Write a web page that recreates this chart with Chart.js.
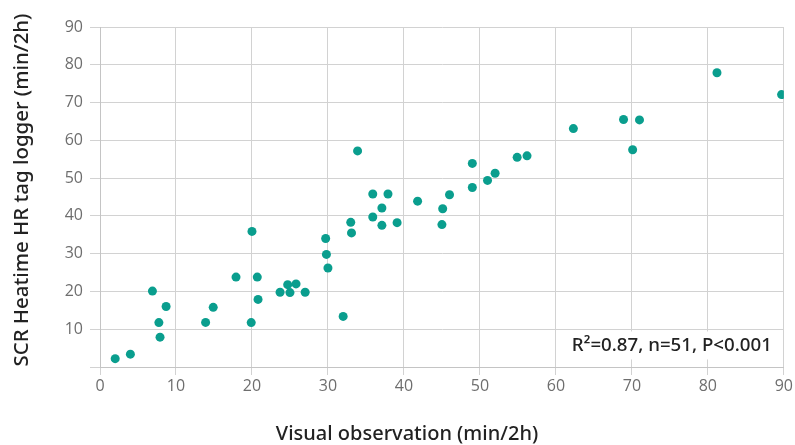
<!DOCTYPE html>
<html><head><meta charset="utf-8">
<script src="https://cdn.jsdelivr.net/npm/chart.js@4"></script>
<style>html,body{margin:0;padding:0;background:#fff}</style>
</head><body>
<canvas id="c" width="795" height="445"></canvas>
<script>
const visualObs = [2.0,4.0,6.9,8.7,7.75,7.9,13.9,14.9,17.9,20.7,20.8,19.9,20.0,23.7,24.7,25.8,25.0,27.0,29.7,29.8,30.0,32.0,33.0,33.1,33.9,35.9,37.9,37.1,35.9,37.1,39.1,41.8,45.0,45.1,46.0,49.0,49.0,51.0,52.0,54.9,56.2,62.3,68.9,70.1,71.0,81.2,89.7];
const tagLogger = [2.2,3.4,20.1,16.0,11.75,7.9,11.8,15.8,23.8,23.8,17.9,11.75,35.9,19.8,21.8,22.0,19.7,19.8,34.0,29.8,26.2,13.4,38.3,35.5,57.2,45.8,45.8,42.1,39.7,37.5,38.2,43.9,37.7,41.9,45.6,47.5,53.9,49.4,51.3,55.5,55.9,63.1,65.5,57.5,65.4,77.9,72.1];
const xTickValues = [0,10,20,30,40,50,60,70,80,90];
const yTickValues = [10,20,30,40,50,60,70,80,90];
const xTitle = "Visual observation (min/2h)";
const yTitle = "SCR Heatime HR tag logger (min/2h)";
const statsText = "R²=0.87, n=51, P<0.001";

const points = visualObs.map((v, i) => ({x: v, y: tagLogger[i]}));

const textPlugin = {
  id: 'texts',
  beforeDatasetsDraw(chart) {
    const {ctx, chartArea} = chart;
    const ys = chart.scales.y;
    ctx.save();
    ctx.font = '500 18.7px "Noto Sans"';
    const w = ctx.measureText(statsText).width;
    const xr = chartArea.right - 12;
    const yc = ys.getPixelForValue(5.7);
    ctx.fillStyle = '#ffffff';
    ctx.fillRect(xr - w - 10, yc - 14, w + 20, 28);
    ctx.fillStyle = '#222222';
    ctx.textAlign = 'right';
    ctx.textBaseline = 'middle';
    ctx.fillText(statsText, xr, yc);
    ctx.restore();
  },
  afterDraw(chart) {
    const {ctx} = chart;
    ctx.save();
    ctx.fillStyle = '#222222';
    ctx.textAlign = 'center';
    ctx.textBaseline = 'middle';
    ctx.font = '500 20px "Noto Sans"';
    ctx.fillText(xTitle, 407, 434);
    ctx.translate(22, 190);
    ctx.rotate(-Math.PI / 2);
    ctx.font = '500 20.4px "Noto Sans"';
    ctx.fillText(yTitle, 0, 0);
    ctx.restore();
  }
};

new Chart(document.getElementById('c'), {
  type: 'scatter',
  data: { datasets: [{
    data: points,
    backgroundColor: '#0a9e8e',
    borderColor: '#0a9e8e',
    borderWidth: 0,
    pointRadius: 4.5,
    pointHoverRadius: 4.5
  }]},
  options: {
    responsive: false,
    animation: false,
    layout: { padding: { top: 27, right: 9, left: 0, bottom: 0 } },
    plugins: { legend: { display: false }, tooltip: { enabled: false } },
    scales: {
      x: {
        type: 'linear', min: 0, max: 90,
        afterBuildTicks(s) { s.ticks = xTickValues.map(v => ({value: v})); },
        afterFit(s) { s.height = 78; },
        grid: { color: '#d2d2d2', lineWidth: 1, tickLength: 8, drawTicks: true },
        border: { color: '#c4c4c4' },
        ticks: { color: '#6e6e6e', padding: 2, font: { family: '"Open Sans"', size: 16 }, maxRotation: 0 },
        title: { display: false, text: xTitle }
      },
      y: {
        type: 'linear', min: 0, max: 90,
        afterBuildTicks(s) { s.ticks = [0].concat(yTickValues).map(v => ({value: v})); },
        afterFit(s) { s.width = 100; },
        grid: { color: '#d2d2d2', lineWidth: 1, tickLength: 10 },
        border: { color: '#c4c4c4' },
        ticks: { color: '#6e6e6e', padding: 7, font: { family: '"Open Sans"', size: 16 },
                 callback: v => v === 0 ? '' : String(v) },
        title: { display: false, text: yTitle }
      }
    }
  },
  plugins: [textPlugin]
});
</script>
</body></html>
